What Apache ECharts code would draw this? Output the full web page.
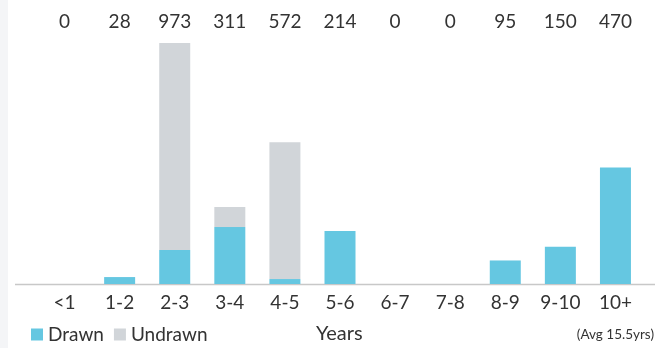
<!DOCTYPE html>
<html>
<head>
<meta charset="utf-8">
<script src="https://cdn.jsdelivr.net/npm/echarts@6/dist/echarts.min.js"></script>
<style>
  html, body { margin: 0; padding: 0; background: #fff; }
  #chart { width: 655px; height: 348px; }
</style>
</head>
<body>
<div id="chart"></div>
<script>
const categories = ["<1", "1-2", "2-3", "3-4", "4-5", "5-6", "6-7", "7-8", "8-9", "9-10", "10+"];
const drawn = [0, 28, 137, 230, 20, 214, 0, 0, 95, 150, 470];
const undrawn = [0, 0, 836, 81, 552, 0, 0, 0, 0, 0, 0];
const totals = ["0", "28", "973", "311", "572", "214", "0", "0", "95", "150", "470"];

const chart = echarts.init(document.getElementById("chart"));
const font = "Lato, 'Open Sans', sans-serif";

var option = {
  animation: false,
  textStyle: { fontFamily: font },
  grid: { left: 37, right: 12, top: 43, bottom: 64 },
  legend: {
    left: 26,
    top: 320,
    icon: "rect",
    itemWidth: 12,
    itemHeight: 12,
    itemGap: 10,
    textStyle: { fontSize: 19, color: "#333", fontFamily: font },
    data: ["Drawn", "Undrawn"]
  },
  xAxis: [
    {
      type: "category",
      data: categories,
      axisLine: { show: false },
      axisTick: { show: false },
      axisLabel: { fontSize: 19, color: "#333", margin: 9 }
    },
    {
      type: "category",
      position: "top",
      data: totals,
      axisLine: { show: false },
      axisTick: { show: false },
      axisLabel: { fontSize: 19, color: "#333", margin: 12 }
    }
  ],
  yAxis: {
    type: "value",
    min: 0,
    max: 973,
    show: false,
    splitLine: { show: false }
  },
  graphic: [
    { type: "rect", shape: { x: 0, y: 0, width: 8, height: 348 }, style: { fill: "#f4f5f7" } },
    { type: "line", shape: { x1: 15, y1: 284.5, x2: 655, y2: 284.5 }, style: { stroke: "#c8c8c8", lineWidth: 1.5 } },
    { type: "text", left: 316, top: 324, style: { text: "Years", fontSize: 20, fill: "#333", fontFamily: font } },
    { type: "text", right: 1, top: 328, style: { text: "(Avg 15.5yrs)", fontSize: 13.5, fill: "#333", fontFamily: font } }
  ],
  series: [
    {
      name: "Drawn",
      type: "bar",
      stack: "t",
      barWidth: 31,
      itemStyle: { color: "#65c7e1" },
      data: drawn
    },
    {
      name: "Undrawn",
      type: "bar",
      stack: "t",
      barWidth: 31,
      itemStyle: { color: "#d1d5d9" },
      data: undrawn
    }
  ]
};

chart.setOption(option);
</script>
</body>
</html>
